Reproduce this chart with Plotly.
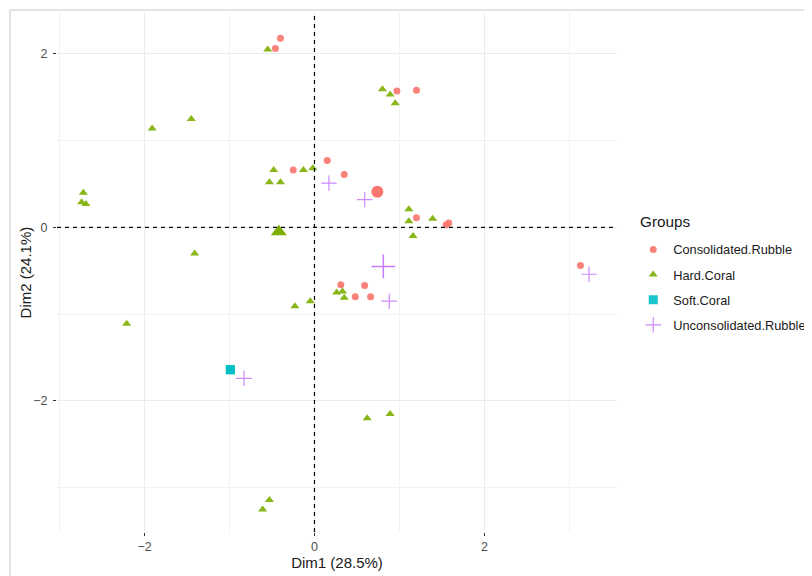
import plotly.graph_objects as go

# ---- data ----
groups = ["Consolidated.Rubble", "Hard.Coral", "Soft.Coral", "Unconsolidated.Rubble"]

cr_x = [-0.40, -0.46, 0.97, 1.20, -0.25, 0.15, 0.35, 1.20, 1.55, 1.58, 0.31, 0.59, 0.48, 0.66, 3.13]
cr_y = [2.18, 2.06, 1.57, 1.58, 0.66, 0.77, 0.61, 0.11, 0.03, 0.05, -0.66, -0.67, -0.80, -0.80, -0.44]

hc_x = [-0.55, -1.91, -1.45, -0.48, -0.53, -0.40, -0.13, -0.02, -2.72, -2.74, -2.69, -1.41,
        0.80, 0.89, 0.95, 1.11, 1.11, 1.39, 1.16, -2.21, -0.23, -0.05, -0.53, -0.61,
        0.26, 0.33, 0.35, 0.62, 0.89]
hc_y = [2.05, 1.14, 1.25, 0.66, 0.52, 0.52, 0.66, 0.68, 0.40, 0.29, 0.27, -0.30,
        1.59, 1.53, 1.43, 0.21, 0.07, 0.10, -0.10, -1.11, -0.91, -0.85, -3.14, -3.25,
        -0.75, -0.74, -0.81, -2.20, -2.15]

sc_x = [-0.99]
sc_y = [-1.64]

ur_x = [0.17, 0.59, 0.88, 3.23, -0.83]
ur_y = [0.51, 0.32, -0.85, -0.54, -1.74]

centroid_x = [0.74, -0.42, -0.99, 0.81]
centroid_y = [0.41, -0.05, -1.64, -0.45]

x_ticks = [-2, 0, 2]
y_ticks = [-2, 0, 2]
x_range = [-3.03, 3.56]
y_range = [-3.51, 2.47]
x_title = "Dim1 (28.5%)"
y_title = "Dim2 (24.1%)"
legend_title = "Groups"

colors = ["#F8766D", "#7CAE00", "#00BFC4", "#C77CFF"]
symbols = ["circle", "triangle-up", "square", "cross-thin-open"]
pt_sizes = [7, 8, 9, 11]
cen_sizes = [12, 14, 9, 17]

series = [(cr_x, cr_y), (hc_x, hc_y), (sc_x, sc_y), (ur_x, ur_y)]

FONT = "Liberation Sans, Arial"

fig = go.Figure()
for i, (g, (xs, ys)) in enumerate(zip(groups, series)):
    mk = dict(color=colors[i], size=pt_sizes[i], symbol=symbols[i], opacity=0.9)
    if symbols[i].endswith("open"):
        mk["line"] = dict(color=colors[i], width=1.2)
    else:
        mk["line"] = dict(width=0)
    fig.add_trace(go.Scatter(x=xs, y=ys, mode="markers", name=g, marker=mk,
                             legendgroup=g))
for i, g in enumerate(groups):
    mk = dict(color=colors[i], size=cen_sizes[i], symbol=symbols[i])
    if symbols[i].endswith("open"):
        mk["line"] = dict(color=colors[i], width=1.5)
    else:
        mk["line"] = dict(width=0)
    fig.add_trace(go.Scatter(x=[centroid_x[i]], y=[centroid_y[i]], mode="markers",
                             marker=mk, showlegend=False, legendgroup=g))

fig.add_hline(y=0, line=dict(color="black", width=1.2, dash="4px,4px"))
fig.add_vline(x=0, line=dict(color="black", width=1.2, dash="4px,4px"))

# outer frame of screenshot
frame_col = "#E3E3E3"
fig.add_shape(type="line", xref="paper", yref="paper", x0=-0.084, x1=1.4, y0=1.0058, y1=1.0058,
              line=dict(color=frame_col, width=2))
fig.add_shape(type="line", xref="paper", yref="paper", x0=-0.084, x1=-0.084, y0=-0.2, y1=1.0058,
              line=dict(color=frame_col, width=2))

axis_common = dict(
    showgrid=True, gridcolor="#EBEBEB", gridwidth=1,
    zeroline=False, showline=False, automargin=False,
    ticks="outside", ticklen=3, tickcolor="#333333", tickwidth=1,
    tickfont=dict(family=FONT, size=12.5, color="#4D4D4D"),
    minor=dict(showgrid=True, gridcolor="#F2F2F2", gridwidth=1, dtick=1, tick0=1),
)

fig.update_xaxes(range=x_range, tickvals=x_ticks, **axis_common,
                 title=dict(text=x_title, standoff=2,
                            font=dict(family=FONT, size=15, color="#1a1a1a")))
fig.update_yaxes(range=y_range, tickvals=y_ticks, **axis_common, ticklabelstandoff=3)

# y-axis title as rotated annotation for precise placement
fig.add_annotation(text=y_title, xref="paper", yref="paper", x=-0.0555, y=0.5,
                   xanchor="center", yanchor="middle", textangle=-90, showarrow=False,
                   font=dict(family=FONT, size=15, color="#1a1a1a"))

fig.add_annotation(text=legend_title, xref="paper", yref="paper",
                   x=1.037, y=0.598, xanchor="left", yanchor="middle", showarrow=False,
                   font=dict(family=FONT, size=15.3, color="#1a1a1a"))

# page body has an 8px margin; figure sized/margined to fit the 812x576 window
fig.update_layout(
    width=804, height=568,
    margin=dict(l=49, r=195, t=5, b=44, autoexpand=False),
    plot_bgcolor="white", paper_bgcolor="white",
    font=dict(family=FONT),
    legend=dict(font=dict(size=12.8, color="#1a1a1a"),
                x=1.029, xanchor="left", y=0.573, yanchor="top",
                tracegroupgap=5.5, itemsizing="trace"),
    showlegend=True,
)

fig.write_html("out.html")
